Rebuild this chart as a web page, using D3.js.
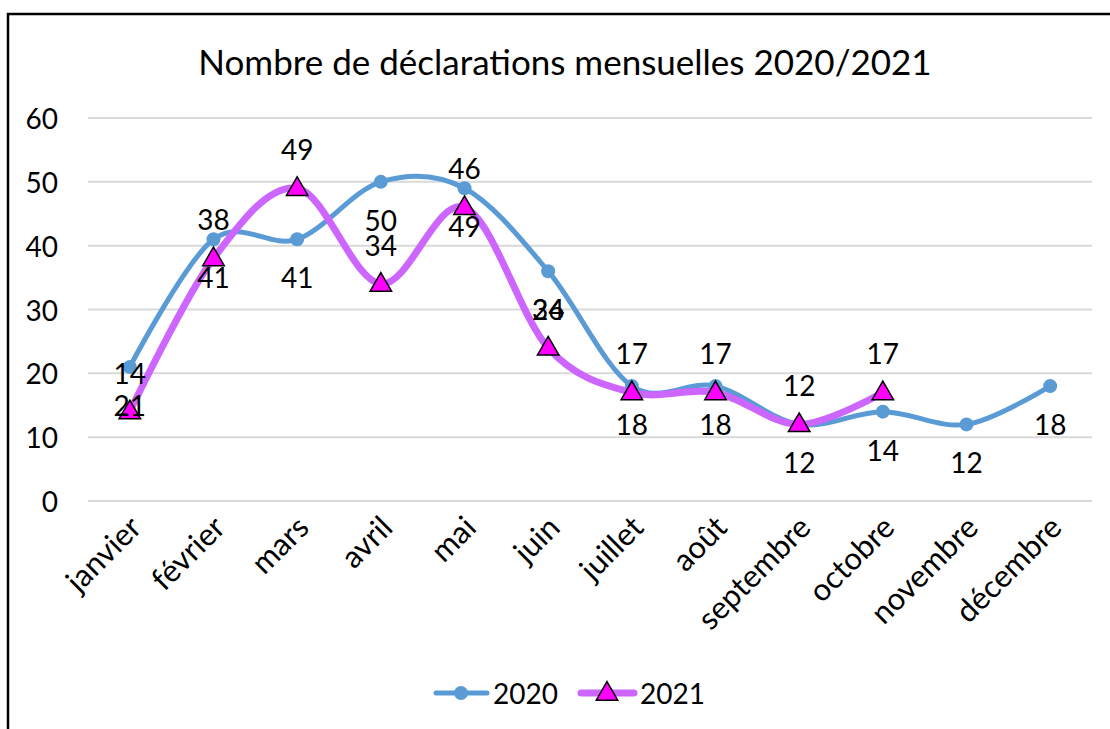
<!DOCTYPE html>
<html><head><meta charset="utf-8">
<script src="https://cdn.jsdelivr.net/npm/d3@7"></script>
<style>body{margin:0;background:#fff}text{font-family:Lato,"Open Sans",sans-serif;fill:#000}</style>
</head><body>
<script>
const months = ["janvier","février","mars","avril","mai","juin","juillet","août","septembre","octobre","novembre","décembre"];
const values2020 = [21,41,41,50,49,36,18,18,12,14,12,18];
const values2021 = [14,38,49,34,46,24,17,17,12,17];
const yTicks = [0,10,20,30,40,50,60];
const seriesNames = ["2020","2021"];
const title = "Nombre de déclarations mensuelles 2020/2021";

const W=1110,H=729;
const svg=d3.select("body").append("svg").attr("width",W).attr("height",H);

const x=d3.scaleBand().domain(months).range([88,1092]);
const cx=m=>x(m)+x.bandwidth()/2;
const y=d3.scaleLinear().domain([0,60]).range([501,118]);

// border
svg.append("path").attr("d","M8,729V14H1110").attr("fill","none").attr("stroke","#000").attr("stroke-width",2.5);

svg.append("text").attr("x",565).attr("y",61).attr("text-anchor","middle").attr("dominant-baseline","central")
  .style("font-size","35px").text(title);

// grid
const g=svg.append("g");
g.selectAll("line.grid").data(yTicks).join("line").attr("class","grid")
  .attr("x1",88).attr("x2",1092).attr("y1",d=>y(d)).attr("y2",d=>y(d))
  .attr("stroke","#d9d9d9").attr("stroke-width",2);
g.selectAll("text.yt").data(yTicks).join("text").attr("class","yt")
  .attr("x",58).attr("y",d=>y(d)).attr("text-anchor","end").attr("dominant-baseline","central")
  .style("font-size","28px").text(d=>d);

// x labels
g.selectAll("text.xt").data(months).join("text").attr("class","xt")
  .attr("transform",d=>`translate(${cx(d)+5},${521}) rotate(-45)`)
  .attr("text-anchor","end").attr("dominant-baseline","central")
  .style("font-size","31px").text(d=>d);

const line=d3.line().curve(d3.curveCatmullRom.alpha(0));
const c1="#5B9BD5", c2="#CC66FF";
const d20=values2020.map((v,i)=>[cx(months[i]),y(v)]);
const d21=values2021.map((v,i)=>[cx(months[i]),y(v)]);

svg.append("path").attr("d",line(d20)).attr("fill","none").attr("stroke",c1).attr("stroke-width",5).attr("stroke-linecap","round");
svg.selectAll("circle.m20").data(d20).join("circle").attr("class","m20").attr("cx",d=>d[0]).attr("cy",d=>d[1]).attr("r",7).attr("fill",c1);

svg.append("path").attr("d",line(d21)).attr("fill","none").attr("stroke",c2).attr("stroke-width",7).attr("stroke-linecap","round");
const tri=d3.symbol(d3.symbolTriangle,200);
svg.selectAll("path.m21").data(d21).join("path").attr("class","m21")
  .attr("transform",d=>`translate(${d[0]},${d[1]+1})`).attr("d",tri).attr("fill","#FF00FF").attr("stroke","#000").attr("stroke-width",1.5);

// labels
svg.selectAll("text.l20").data(values2020).join("text").attr("class","l20")
  .attr("x",(v,i)=>cx(months[i])).attr("y",v=>y(v)+38).attr("text-anchor","middle").attr("dominant-baseline","central")
  .style("font-size","28px").text(v=>v);
svg.selectAll("text.l21").data(values2021).join("text").attr("class","l21")
  .attr("x",(v,i)=>cx(months[i])).attr("y",v=>y(v)-39).attr("text-anchor","middle").attr("dominant-baseline","central")
  .style("font-size","28px").text(v=>v);

// legend
const lg=svg.append("g");
lg.append("line").attr("x1",436).attr("x2",487).attr("y1",693).attr("y2",693).attr("stroke",c1).attr("stroke-width",5).attr("stroke-linecap","round");
lg.append("circle").attr("cx",461).attr("cy",693).attr("r",7).attr("fill",c1);
lg.append("text").attr("x",493).attr("y",693).attr("dominant-baseline","central").style("font-size","28px").text(seriesNames[0]);
lg.append("line").attr("x1",581).attr("x2",634).attr("y1",693).attr("y2",693).attr("stroke",c2).attr("stroke-width",7).attr("stroke-linecap","round");
lg.append("path").attr("transform","translate(607,694)").attr("d",tri).attr("fill","#FF00FF").attr("stroke","#000").attr("stroke-width",1.5);
lg.append("text").attr("x",640).attr("y",693).attr("dominant-baseline","central").style("font-size","28px").text(seriesNames[1]);
</script>
</body></html>
